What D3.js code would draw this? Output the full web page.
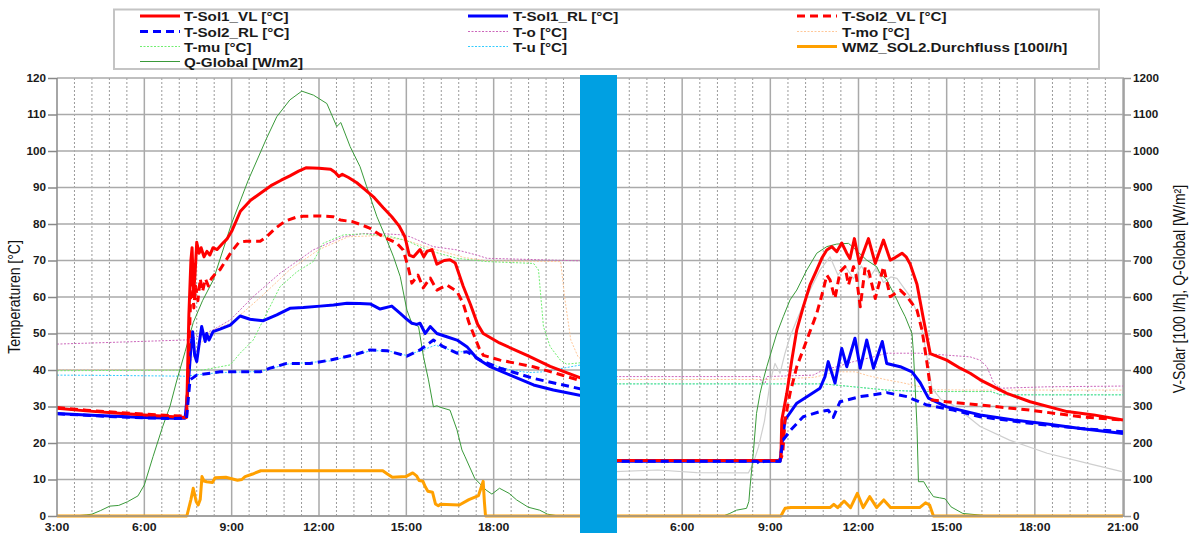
<!DOCTYPE html>
<html><head><meta charset="utf-8">
<script src="https://cdn.jsdelivr.net/npm/d3@7"></script>
<style>
body{margin:0;background:#fff;}
svg{display:block;font-family:"Liberation Sans",Arial,sans-serif;}
</style></head><body>
<svg id="chart" width="1192" height="533"></svg>
<script>
// ---------------- DATA (time in hours, value) ----------------
// Left panel (day 1)
const sol1VL_d1 = [[3.0,29.5],[4.0,28.8],[5.0,28.2],[6.0,27.7],[7.0,27.2],[7.45,27.0],[7.53,55],[7.6,70],[7.64,73.5],[7.69,61],[7.74,66],[7.8,75],[7.88,72],[7.95,73.5],[8.05,71],[8.15,72.5],[8.25,71.5],[8.36,73.5],[8.5,73],[8.67,74.5],[8.85,76],[9.0,78],[9.3,83.5],[9.65,86.5],[10.0,88.5],[10.35,90.5],[10.7,92],[11.0,93.2],[11.3,94.5],[11.55,95.4],[12.0,95.3],[12.4,95.0],[12.55,94.2],[12.68,93.0],[12.8,93.6],[13.0,92.8],[13.3,91.3],[13.6,89.3],[13.9,87.2],[14.2,84.5],[14.5,82],[14.75,79.5],[14.95,76.5],[15.1,71.5],[15.25,71],[15.47,73],[15.6,71],[15.71,72.5],[15.88,73],[16.05,69],[16.3,70],[16.5,70.2],[16.68,69.3],[16.95,63],[17.2,58],[17.45,52.5],[17.64,50],[18.2,47.4],[19.15,44],[19.94,41],[21.0,37.8]];
const sol2VL_d1 = [[3.0,29.7],[4.0,29.0],[5.0,28.4],[6.0,27.9],[7.0,27.5],[7.45,27.3],[7.53,45],[7.6,62],[7.64,66],[7.7,57],[7.76,63],[7.84,59],[7.92,65],[8.0,61.5],[8.1,65],[8.2,63],[8.3,65],[8.45,66.5],[8.6,67.5],[8.8,70],[9.0,72.5],[9.25,75],[9.5,75.3],[9.98,75.3],[10.2,76.5],[10.5,78.8],[10.84,80.8],[11.2,81.8],[11.45,82.1],[12.0,82.2],[12.48,82.0],[12.73,81.1],[13.17,80.6],[13.45,79.8],[13.76,78.8],[14.2,76.5],[14.67,74.8],[14.89,72.9],[15.06,68.3],[15.19,63.8],[15.4,66],[15.58,62.5],[15.82,65.2],[16.05,61.9],[16.39,63.3],[16.74,61.5],[16.95,58.3],[17.15,53],[17.3,50],[17.5,46],[17.65,44],[18.22,42.7],[19.36,40.9],[20.9,37.3],[21.0,37.2]];
const sol1RL_d1 = [[3.0,28.1],[4.0,27.7],[5.0,27.3],[6.0,27.0],[7.0,26.8],[7.4,26.8],[7.5,35],[7.6,46],[7.66,50.5],[7.73,44],[7.8,42.3],[7.88,47],[7.97,51.9],[8.09,47.8],[8.14,50],[8.22,48.2],[8.36,50.5],[8.6,51.2],[8.95,52.3],[9.29,54.8],[9.63,53.9],[10.09,53.5],[10.55,55.1],[11.0,56.9],[11.46,57.1],[12.04,57.5],[12.5,57.8],[12.96,58.3],[13.4,58.2],[13.76,58.1],[14.1,56.7],[14.5,57.5],[14.79,55.5],[15.0,54],[15.19,52.8],[15.36,52.5],[15.47,52.8],[15.65,50],[15.82,51.9],[16.05,50],[16.39,49.1],[16.74,48.2],[17.08,46.4],[17.42,43.2],[17.88,40.9],[18.57,38.6],[19.37,35.9],[20.05,34.5],[21.0,33.0]];
const sol2RL_d1 = [[3.0,28.0],[4.0,27.6],[5.0,27.2],[6.0,26.9],[7.0,26.7],[7.45,26.8],[7.57,37.3],[7.8,38.6],[8.6,39.5],[9.98,39.5],[10.32,40.5],[10.89,41.8],[11.69,41.8],[12.38,42.7],[13.18,44.1],[13.76,45.5],[14.33,45.3],[15.02,43.8],[15.47,45.5],[15.93,48.2],[16.27,46.4],[16.74,44.6],[17.08,45],[17.54,42.7],[18.22,40.5],[19.37,37.7],[21.0,34.8]];
const tO_d1 = [[3.0,47.1],[5.0,47.6],[7.33,48.2],[7.57,48.3],[8.36,51],[8.95,53.7],[9.74,60.1],[10.66,66.5],[11.8,72.9],[12.83,76.5],[13.52,77.4],[14.3,77.3],[14.89,77],[15.13,76.5],[15.92,73.8],[16.74,72.9],[17.42,71.5],[17.77,70.6],[21.0,69.9]];
const tMo_d1 = [[3.0,40.0],[7.45,40],[7.7,44],[8.0,48],[8.4,51],[9.0,53],[10.0,60],[11.0,67.5],[12.0,73],[13.0,76.5],[14.0,76.8],[15.0,75.5],[16.0,73],[17.0,70.8],[17.8,69.9],[20.3,69.7],[20.45,59.2],[20.65,48.2],[20.9,43.6],[21.0,43]];
const tMu_d1 = [[3.0,39.8],[8.02,40],[8.95,41.4],[9.29,44.6],[9.74,48.2],[10.2,55.5],[10.66,62.8],[11.24,66.9],[11.8,69.7],[12.14,74.7],[12.83,77],[13.5,77.3],[14.3,76.8],[15.0,75.5],[15.7,72.9],[16.74,70.6],[17.77,69.7],[19.37,69.2],[19.54,67.4],[19.71,51.9],[19.94,46.4],[20.29,42.7],[20.51,41.6],[21.0,42.0]];
const tU_d1 = [[3.0,38.6],[5.0,38.5],[7.4,38.3],[7.7,38.6],[8.6,39.3],[10.0,39.6],[10.9,41.6],[12.4,42.5],[13.8,45.3],[14.4,45.2],[15.0,44],[15.5,45.3],[16.0,46.8],[16.7,45],[17.1,45],[17.5,42.7],[17.9,41.5],[18.6,40],[19.2,39.3],[19.7,39.5],[21.0,41.4]];
const qGlobal_d1 = [[3.0,0],[3.6,0],[4.0,3],[4.2,5],[4.5,15],[4.81,27],[5.12,29],[5.42,39],[5.78,55],[6.0,85],[6.3,163],[6.63,245],[6.88,300],[7.11,370],[7.4,450],[7.68,530],[8.0,590],[8.37,647],[9.0,802],[9.57,920],[10.2,1035],[10.55,1094],[11.0,1140],[11.41,1164],[11.81,1153],[12.27,1130],[12.61,1067],[12.75,1078],[13.07,1012],[13.41,957],[13.64,902],[13.99,820],[14.33,756],[14.56,710],[14.79,656],[15.02,564],[15.19,528],[15.42,519],[15.59,436],[15.76,373],[15.93,299],[16.05,302],[16.16,298],[16.5,290],[16.74,236],[16.91,181],[17.02,162],[17.35,103],[17.74,71],[17.94,60],[18.2,76],[18.53,62],[18.79,44],[19.19,24],[19.58,16],[19.85,5],[20.24,0],[21.0,0]];
const flow_d1 = [[3.0,0],[7.46,0],[7.6,45],[7.68,76],[7.78,40],[7.85,30],[7.92,45],[7.98,108],[8.05,96],[8.14,94],[8.34,92],[8.43,105],[8.8,106],[9.0,102],[9.2,98],[9.35,100],[9.46,108],[9.72,115],[10.0,124],[14.19,124],[14.35,115],[14.52,106],[14.98,108],[15.22,118],[15.35,110],[15.44,97],[15.57,95],[15.65,80],[15.74,68],[15.9,65],[16.0,33],[16.1,28],[16.16,32],[16.82,30],[17.15,45],[17.48,56],[17.64,95],[17.68,40],[17.72,0],[21.0,0]];

// Right panel (day 2)
const sol1VL_d2 = [[3.5,15.2],[9.3,15.2],[9.36,16],[9.39,26.3],[9.56,33.6],[9.73,42.7],[9.9,51],[10.12,57.3],[10.35,63.3],[10.58,67.4],[10.75,70.6],[10.92,72.9],[11.09,73.8],[11.26,72.4],[11.43,74.8],[11.6,72],[11.71,70.5],[11.86,76],[12.03,69.2],[12.34,76],[12.57,69.2],[12.85,75.6],[13.08,70.1],[13.25,70.8],[13.48,72],[13.62,71],[13.76,69],[13.99,63.5],[14.21,54],[14.44,44.5],[15.0,42.7],[15.46,40.5],[15.8,39.1],[16.14,37.3],[17.05,33.6],[17.84,31.3],[19.1,28.6],[20.0,27.7],[21.0,26.3]];
const sol2VL_d2 = [[3.5,15.2],[9.33,15.2],[9.42,17],[9.5,26.3],[9.67,33.6],[9.9,40.9],[10.24,48.2],[10.58,55.5],[10.8,61.9],[10.92,66],[11.03,64.7],[11.2,59.6],[11.37,66.9],[11.54,68.3],[11.66,63.3],[11.83,68.3],[11.92,66],[12.06,57.3],[12.23,68.3],[12.35,67],[12.57,59.6],[12.85,68.3],[13.08,60.1],[13.42,61.9],[13.65,60.1],[13.99,56.4],[14.16,51],[14.33,42],[14.5,31.8],[15.0,31.3],[16.14,30.4],[17.84,29],[19.55,27.2],[21.0,26.3]];
const sol1RL_d2 = [[3.5,15.0],[9.33,15.0],[9.4,20],[9.5,26.3],[9.9,30.9],[10.35,33.2],[10.69,35],[10.86,38.2],[10.97,42.3],[11.2,36.4],[11.43,45.9],[11.6,40.9],[11.88,48.7],[12.06,40.5],[12.28,48.2],[12.51,40.5],[12.81,47.8],[12.96,41.8],[13.42,40.9],[13.82,39.5],[14.1,36.5],[14.38,32.3],[15.0,29.9],[16.14,27.7],[17.28,26.3],[18.42,25.2],[19.55,24],[21.0,22.6]];
const sol2RL_d2 = [[3.5,15.0],[8.55,15.0],[8.65,14.2],[8.72,14.8],[8.8,15.0],[9.33,15.0],[9.43,20.8],[9.7,23.6],[10.12,27.2],[10.69,28.6],[10.97,29],[11.14,27],[11.37,31.3],[12.06,32.7],[12.96,33.8],[13.65,32.7],[14.33,30.4],[15.23,29],[16.14,27.2],[17.84,25.4],[19.55,24],[21.0,23.1]];
const tO_d2 = [[3.5,38.2],[8.65,38.2],[8.7,36.6],[8.82,36.4],[8.88,38.2],[10.46,38.6],[10.8,40],[11.26,40.9],[11.83,42.3],[12.51,43.6],[12.96,44.6],[14.1,44.6],[15.8,43.6],[16.14,42.7],[16.37,40.9],[16.6,36.4],[16.82,35],[18.42,35.4],[21.0,35.6]];
const tMo_d2 = [[3.5,37.4],[9.0,37.4],[10.5,38],[11.2,39.5],[11.9,39.5],[12.3,38.5],[12.96,37.3],[13.5,36.5],[14.1,35.4],[14.2,34.6],[16.14,34.5],[21.0,34.5]];
const tMu_d2 = [[3.5,36.2],[10.8,36.2],[11.83,35.4],[12.96,34.5],[14.1,34.1],[16.5,34.1],[16.85,33.2],[21.0,33.2]];
const tU_d2 = [[3.5,36.2],[10.8,36.2],[11.83,35.4],[12.96,34.5],[14.1,34.1],[16.5,34.1],[16.85,33.2],[21.0,33.2]];
const gray_d2 = [[3.5,12.1],[5.17,12.6],[6.5,11.9],[8.25,11.8],[8.4,14],[8.6,19],[8.8,26],[9.0,37],[9.16,41.8],[9.33,39.1],[9.5,44.6],[9.67,49.1],[9.9,53.7],[10.24,60.1],[10.69,67.4],[11.03,71],[11.3,66],[11.54,68.5],[11.83,65],[12.1,68.5],[12.35,65],[12.6,68],[12.85,64],[13.1,65.5],[13.31,65.1],[13.76,60.1],[14.1,53.7],[14.3,45],[14.5,35],[14.8,32],[15.2,30.5],[15.6,28],[16.14,24.5],[17.14,20.8],[18.42,17.2],[19.8,14.4],[21.0,12.1]];
const qGlobal_d2 = [[3.5,0],[7.4,0],[7.62,7],[7.85,16],[8.19,21],[8.27,40],[8.31,80],[8.42,172],[8.53,281],[8.65,336],[8.76,373],[8.88,409],[9.05,455],[9.22,500],[9.44,546],[9.67,592],[9.9,619],[10.24,674],[10.58,720],[10.92,738],[11.26,745],[11.66,747],[11.83,735],[12.28,701],[12.62,683],[12.73,665],[12.96,647],[13.08,628],[13.31,592],[13.42,573],[13.59,546],[13.82,500],[13.87,446],[13.93,350],[13.99,245],[14.04,94],[14.22,94],[14.35,76],[14.55,53],[14.75,50],[14.95,47],[15.15,25],[15.55,7],[16.21,2],[16.3,0],[21.0,0]];
const flow_d2 = [[3.5,0],[9.36,0],[9.5,21],[9.7,23],[11.03,23],[11.16,32],[11.29,23],[11.51,41],[11.73,23],[11.96,62],[12.16,23],[12.38,53],[12.62,23],[12.86,44],[13.09,23],[14.08,23],[14.28,36],[14.42,30],[14.55,0],[21.0,0]];

// Axis tick values / labels
const tempTicks = [0,10,20,30,40,50,60,70,80,90,100,110,120];
const rightTicks = [0,100,200,300,400,500,600,700,800,900,1000,1100,1200];
const leftTimeTicks = [3,6,9,12,15,18];
const rightTimeTicks = [6,9,12,15,18,21];
const legendNames = ["T-Sol1_VL [°C]","T-Sol1_RL [°C]","T-Sol2_VL [°C]","T-Sol2_RL [°C]","T-o [°C]","T-mo [°C]","T-mu [°C]","T-u [°C]","WMZ_SOL2.Durchfluss [100l/h]","Q-Global [W/m2]"];
const leftTitle = "Temperaturen [°C]";
const rightTitle = "V-Solar [100 l/h], Q-Global [W/m²]";

// ---------------- STYLES ----------------
const SX = 1.17;
const styles = {
  sol1VL:{color:"#ff0000", w:3, dash:null, axis:"T"},
  sol1RL:{color:"#0000ff", w:3, dash:null, axis:"T"},
  sol2VL:{color:"#ff0000", w:3, dash:"8,5", axis:"T"},
  sol2RL:{color:"#0000ff", w:3, dash:"8,5", axis:"T"},
  tO:{color:"#cc66bb", w:1, dash:"2,1.5", axis:"T"},
  tMo:{color:"#ffc89a", w:1, dash:"2,1.5", axis:"T"},
  tMu:{color:"#70ee70", w:1, dash:"2,1.5", axis:"T"},
  tU:{color:"#33ccff", w:1, dash:"2,1.5", axis:"T"},
  flow:{color:"#ffa000", w:3, dash:null, axis:"Q"},
  qGlobal:{color:"#3a9a3a", w:1, dash:null, axis:"Q"},
  gray:{color:"#cfcfcf", w:1.2, dash:null, axis:"T"}
};
const legendKeys = ["sol1VL","sol1RL","sol2VL","sol2RL","tO","tMo","tMu","tU","flow","qGlobal"];

const svg = d3.select("#chart");
const xL = d3.scaleLinear().domain([3,21]).range([57,581]);
const xR = d3.scaleLinear().domain([3,21]).range([594,1123]);
const yT = d3.scaleLinear().domain([0,120]).range([516,78]);
const yQ = d3.scaleLinear().domain([0,1200]).range([516,78]);
const PL = 57, PR = 1124, PT = 78, PB = 516;

const defs = svg.append("defs");
defs.append("clipPath").attr("id","clipL").append("rect").attr("x",57).attr("y",60).attr("width",524).attr("height",460);
defs.append("clipPath").attr("id","clipR").append("rect").attr("x",594).attr("y",60).attr("width",530).attr("height",460);

// ---------------- GRID ----------------
const grid = svg.append("g");
[[xL,"L"],[xR,"R"]].forEach(([xs,p])=>{
  d3.range(0,31).forEach(i=>{
    const t = 3 + i*0.6;
    const solid = (i%5===0);
    const x = xs(t);
    if (p==="L" && (i===0)) return;
    grid.append("line").attr("x1",x).attr("x2",x).attr("y1",PT).attr("y2",PB)
      .attr("stroke", solid ? "#a9a9a9" : "#9a9a9a")
      .attr("stroke-width", solid ? 1.5 : 1)
      .attr("stroke-dasharray", solid ? null : "2,2");
  });
});
tempTicks.forEach(v=>{
  grid.append("line").attr("x1",PL).attr("x2",PR).attr("y1",yT(v)).attr("y2",yT(v))
    .attr("stroke","#aaaaaa").attr("stroke-width",1.5);
});

// ---------------- SERIES ----------------
const panels = [
  {x:xL, clip:"clipL", d:{tMo:tMo_d1,tO:tO_d1,tU:tU_d1,tMu:tMu_d1,qGlobal:qGlobal_d1,flow:flow_d1,sol1VL:sol1VL_d1,sol2VL:sol2VL_d1,sol1RL:sol1RL_d1,sol2RL:sol2RL_d1}},
  {x:xR, clip:"clipR", d:{tMo:tMo_d2,tO:tO_d2,tU:tU_d2,tMu:tMu_d2,gray:gray_d2,qGlobal:qGlobal_d2,flow:flow_d2,sol1VL:sol1VL_d2,sol2VL:sol2VL_d2,sol1RL:sol1RL_d2,sol2RL:sol2RL_d2}}
];
const order = ["tMo","tO","tU","tMu","gray","qGlobal","flow","sol1RL","sol1VL","sol2VL","sol2RL"];
panels.forEach(p=>{
  const g = svg.append("g").attr("clip-path","url(#"+p.clip+")");
  order.forEach(k=>{
    const data = p.d[k]; if(!data) return;
    const st = styles[k];
    const ys = st.axis==="T" ? yT : yQ;
    const line = d3.line().x(d=>p.x(d[0])).y(d=>ys(d[1]));
    g.append("path").attr("d",line(data)).attr("fill","none")
      .attr("stroke",st.color).attr("stroke-width",st.w)
      .attr("stroke-dasharray",st.dash).attr("stroke-linejoin","round");
  });
});

// ---------------- AXES ----------------
const ax = svg.append("g");
ax.append("line").attr("x1",PL).attr("x2",PL).attr("y1",PT).attr("y2",PB).attr("stroke","#888").attr("stroke-width",1.5);
ax.append("line").attr("x1",PR).attr("x2",PR).attr("y1",PT).attr("y2",PB).attr("stroke","#999").attr("stroke-width",1.5);
ax.append("line").attr("x1",PL).attr("x2",PR).attr("y1",PB).attr("y2",PB).attr("stroke","#999").attr("stroke-width",1.5);

function sText(g, x, y, txt, anchor, size, weight){
  return g.append("text").attr("transform",`translate(${x},${y}) scale(${SX},1)`)
    .attr("text-anchor",anchor).attr("font-size",size).attr("font-weight",weight||"bold")
    .attr("fill","#1a1a1a").text(txt);
}
const yAxisL = d3.axisLeft(yT).tickValues(tempTicks).tickSize(9).tickFormat("");
ax.append("g").attr("transform",`translate(${PL},0)`).call(yAxisL)
  .call(g=>{g.select(".domain").remove(); g.selectAll("line").attr("stroke","#888").attr("stroke-width",1.5);});
tempTicks.forEach(v=> sText(ax, 46, yT(v)+3.7, String(v), "end", 10));
const yAxisR = d3.axisRight(yQ).tickValues(rightTicks).tickSize(7).tickFormat("");
ax.append("g").attr("transform",`translate(${PR},0)`).call(yAxisR)
  .call(g=>{g.select(".domain").remove(); g.selectAll("line").attr("stroke","#999").attr("stroke-width",1.5);});
rightTicks.forEach(v=> sText(ax, 1133, yQ(v)+3.7, String(v), "start", 10));

leftTimeTicks.forEach(t=> sText(ax, xL(t), 531, t+":00", "middle", 10.5));
rightTimeTicks.forEach(t=> sText(ax, xR(t), 531, t+":00", "middle", 10.5));

ax.append("text").attr("transform",`translate(20,297) scale(${SX},1) rotate(-90)`)
  .attr("text-anchor","middle").attr("font-size",14).attr("fill","#111").text(leftTitle);
ax.append("text").attr("transform",`translate(1185,289) scale(${SX},1) rotate(-90)`)
  .attr("text-anchor","middle").attr("font-size",14).attr("fill","#111").text(rightTitle);

// ---------------- BLUE SEPARATOR BAR ----------------
svg.append("rect").attr("x",580).attr("y",75).attr("width",37).attr("height",458).attr("fill","#00a0e2");

// ---------------- LEGEND ----------------
const lg = svg.append("g");
lg.append("rect").attr("x",114).attr("y",9.5).attr("width",985).attr("height",59.5)
  .attr("fill","#fff").attr("stroke","#c4c4c4").attr("stroke-width",2);
const colLine = [140,468,797], colText = [184,513,842], rowY = [16,31.5,46.5,61.5];
legendKeys.forEach((k,i)=>{
  const c = i%3, r = Math.floor(i/3);
  const st = styles[k];
  lg.append("line").attr("x1",colLine[c]).attr("x2",colLine[c]+40).attr("y1",rowY[r]).attr("y2",rowY[r])
    .attr("stroke",st.color).attr("stroke-width",st.w).attr("stroke-dasharray",st.dash);
  sText(lg, colText[c], rowY[r]+5, legendNames[i], "start", 13);
});
</script>
</body></html>
